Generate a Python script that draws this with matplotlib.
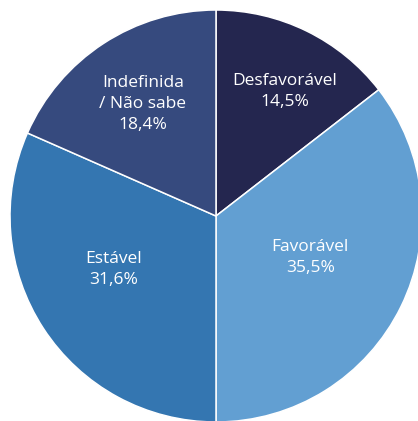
import numpy as np
import matplotlib
matplotlib.use("Agg")
import matplotlib.pyplot as plt

categories = ["Desfavorável", "Favorável", "Estável", "Indefinida\n/ Não sabe"]
shares = [14.5, 35.5, 31.6, 18.4]
colors = ["#24264f", "#629fd2", "#3476b1", "#364a7e"]

# label placement: distance from centre (fraction of radius) and angle nudge (deg)
label_r = [0.69, 0.50, 0.56, 0.65]
label_nudge = [-3, 2.5, -5.5, 0]

plt.rcParams["font.family"] = ["Open Sans", "DejaVu Sans"]

fig = plt.figure(figsize=(4.18, 4.21), dpi=100)
ax = fig.add_axes([0, 0, 1, 1])

wedges, _ = ax.pie(shares, colors=colors, startangle=90, counterclock=False,
                   radius=1, wedgeprops=dict(edgecolor="white", linewidth=1.1))

for w, name, val, r, dn in zip(wedges, categories, shares, label_r, label_nudge):
    mid = np.deg2rad((w.theta1 + w.theta2) / 2 + dn)
    txt = f"{name}\n{val:.1f}%".replace(".", ",")
    ax.text(r * np.cos(mid), r * np.sin(mid), txt, ha="center", va="center",
            color="white", fontsize=12.5, linespacing=1.4)

scale = 206
ax.set_xlim(-216 / scale, (418 - 216) / scale)
ax.set_ylim(-(421 - 216) / scale, 216 / scale)
ax.set_aspect("auto")
ax.axis("off")

fig.savefig("out.png", dpi=100)
